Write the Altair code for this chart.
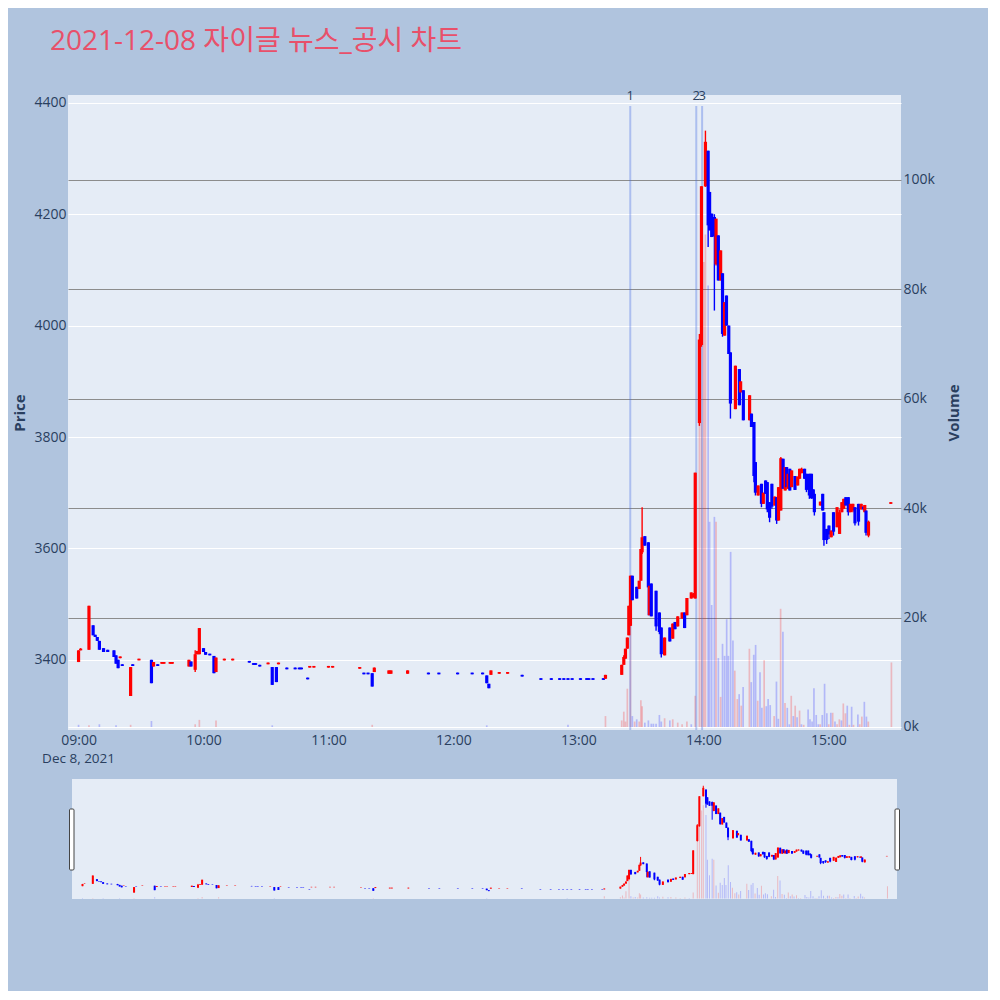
import altair as alt
import numpy as np
import pandas as pd

TITLE = "2021-12-08 자이글 뉴스_공시 차트"
DAY = "2021-12-08 09:00:00"

# candles: (minutes after 09:00, open, high, low, close)
MORNING = [
    (0, 3396, 3417, 3396, 3417), (1, 3417, 3421, 3417, 3420), (5, 3418, 3497, 3418, 3497),
    (7, 3462, 3462, 3444, 3444), (8, 3445, 3445, 3441, 3441), (9, 3441, 3441, 3434, 3434),
    (10, 3434, 3434, 3418, 3418), (12, 3421, 3421, 3414, 3414), (14, 3418, 3418, 3414, 3414),
    (17, 3417, 3417, 3405, 3405), (18, 3408, 3408, 3393, 3393), (19, 3400, 3400, 3385, 3385),
    (20, 3403, 3406, 3403, 3406), (21, 3392, 3392, 3389, 3389), (25, 3335, 3387, 3335, 3387),
    (26, 3392, 3392, 3389, 3389), (29, 3399, 3402, 3399, 3402), (35, 3400, 3400, 3358, 3358),
    (36, 3388, 3396, 3388, 3396), (38, 3392, 3392, 3389, 3389), (40, 3393, 3396, 3393, 3396),
    (41, 3393, 3396, 3393, 3396), (44, 3393, 3396, 3393, 3396), (45, 3393, 3396, 3393, 3396),
    (53, 3388, 3400, 3388, 3400), (54, 3397, 3397, 3388, 3388), (56, 3382, 3417, 3378, 3410),
    (57, 3410, 3416, 3410, 3416), (58, 3410, 3457, 3410, 3457), (60, 3421, 3421, 3414, 3414),
    (61, 3414, 3414, 3409, 3409), (63, 3411, 3411, 3408, 3408), (65, 3407, 3407, 3376, 3376),
    (66, 3378, 3404, 3378, 3404), (70, 3399, 3402, 3399, 3402), (74, 3399, 3402, 3399, 3402),
    (82, 3398, 3398, 3395, 3395), (84, 3394, 3394, 3391, 3391), (85, 3394, 3394, 3391, 3391),
    (87, 3391, 3391, 3388, 3388), (91, 3392, 3395, 3392, 3395), (93, 3387, 3387, 3355, 3355),
    (95, 3387, 3387, 3360, 3360), (96, 3392, 3395, 3392, 3395), (100, 3386, 3386, 3383, 3383),
    (104, 3386, 3386, 3383, 3383), (106, 3386, 3386, 3383, 3383), (107, 3386, 3386, 3383, 3383),
    (110, 3368, 3368, 3365, 3365), (111, 3386, 3389, 3386, 3389), (113, 3386, 3389, 3386, 3389),
    (120, 3386, 3389, 3386, 3389), (122, 3386, 3389, 3386, 3389),
]

MIDDAY = [
    (135, 3384, 3387, 3384, 3387), (137, 3377, 3377, 3374, 3374), (139, 3377, 3377, 3374, 3374),
    (141, 3376, 3376, 3352, 3352), (142, 3378, 3386, 3378, 3386), (149, 3375, 3381, 3375, 3381),
    (150, 3375, 3381, 3375, 3381), (158, 3375, 3381, 3375, 3381), (168, 3377, 3377, 3374, 3374),
    (173, 3377, 3377, 3374, 3374), (182, 3377, 3377, 3374, 3374), (189, 3377, 3377, 3374, 3374),
    (194, 3377, 3377, 3374, 3374), (196, 3372, 3372, 3358, 3358), (197, 3357, 3357, 3349, 3349),
    (198, 3373, 3381, 3373, 3381), (202, 3375, 3378, 3375, 3378), (206, 3375, 3378, 3375, 3378),
    (213, 3373, 3373, 3370, 3370), (222, 3367, 3367, 3364, 3364), (227, 3367, 3367, 3364, 3364),
    (231, 3367, 3367, 3364, 3364), (233, 3367, 3367, 3364, 3364), (235, 3367, 3367, 3364, 3364),
    (237, 3367, 3367, 3364, 3364), (241, 3367, 3367, 3364, 3364), (244, 3367, 3367, 3364, 3364),
    (245, 3367, 3367, 3364, 3364), (247, 3367, 3367, 3364, 3364), (252, 3367, 3367, 3364, 3364),
    (253, 3366, 3373, 3366, 3373),
]

RALLY = [
    (260.8, 3373, 3391, 3373, 3391), (261.8, 3391, 3408, 3391, 3405), (262.6, 3402, 3420, 3402, 3420),
    (263.5, 3420, 3440, 3420, 3440), (264.2, 3444, 3497, 3444, 3497), (265.0, 3461, 3551, 3461, 3551),
    (265.9, 3551, 3551, 3507, 3507), (268.0, 3531, 3531, 3510, 3510), (269.2, 3527, 3542, 3527, 3542),
    (270.0, 3542, 3599, 3542, 3599), (270.6, 3593, 3674, 3590, 3620), (271.9, 3622, 3622, 3605, 3605),
    (273.6, 3611, 3611, 3480, 3530), (274.1, 3480, 3533, 3480, 3533), (275.0, 3537, 3537, 3478, 3478),
    (277.3, 3524, 3524, 3452, 3460), (278.9, 3485, 3485, 3446, 3450), (279.8, 3458, 3458, 3404, 3410),
    (281.4, 3408, 3440, 3408, 3440), (283.9, 3458, 3458, 3433, 3433), (285.3, 3438, 3465, 3438, 3465),
    (286.4, 3468, 3468, 3455, 3455), (287.7, 3460, 3478, 3460, 3478), (289.8, 3474, 3485, 3474, 3485),
    (291.0, 3485, 3485, 3457, 3457), (292.1, 3480, 3511, 3480, 3511), (294.2, 3510, 3521, 3510, 3521),
    (295.3, 3512, 3520, 3512, 3518), (296.1, 3510, 3736, 3510, 3736),
]

AFTERNOON = [
    (298.1, 3825, 3985, 3820, 3975), (299.1, 3965, 4250, 3962, 4250), (301.0, 4250, 4350, 4249, 4330),
    (302.3, 4314, 4314, 4141, 4180), (303.0, 4240, 4240, 4171, 4171), (304.0, 4201, 4201, 4159, 4159),
    (305.3, 4195, 4200, 4027, 4160), (306.1, 4110, 4192, 4108, 4192), (307.2, 4162, 4162, 4081, 4081),
    (308.3, 4081, 4135, 4081, 4135), (309.2, 4094, 4094, 3980, 3985), (310.2, 3982, 4042, 3982, 4042),
    (311.1, 4054, 4054, 4000, 4000), (312.2, 4000, 4000, 3949, 3949), (313.0, 3952, 3952, 3833, 3860),
    (315.4, 3850, 3928, 3850, 3928), (317.3, 3922, 3922, 3857, 3857), (317.9, 3880, 3900, 3880, 3900),
    (319.2, 3884, 3884, 3830, 3830), (322.2, 3830, 3875, 3830, 3875), (323.1, 3842, 3842, 3818, 3818),
    (324.3, 3827, 3827, 3719, 3730), (325.0, 3755, 3755, 3695, 3700), (326.3, 3695, 3713, 3695, 3713),
    (327.9, 3716, 3716, 3674, 3680), (328.8, 3680, 3700, 3680, 3700), (329.9, 3722, 3722, 3698, 3698),
    (330.7, 3719, 3719, 3665, 3670), (331.8, 3683, 3683, 3647, 3655), (332.9, 3716, 3716, 3671, 3675),
    (334.3, 3677, 3693, 3677, 3693), (335.2, 3692, 3692, 3644, 3650), (336.1, 3650, 3710, 3650, 3710),
    (337.2, 3668, 3764, 3668, 3762), (338.3, 3761, 3761, 3707, 3707), (339.3, 3704, 3746, 3704, 3746),
    (340.0, 3746, 3746, 3710, 3710), (340.7, 3707, 3734, 3707, 3734), (341.5, 3743, 3743, 3704, 3704),
    (342.4, 3710, 3740, 3710, 3740), (344.0, 3730, 3730, 3705, 3705), (345.3, 3713, 3729, 3713, 3729),
    (346.2, 3725, 3743, 3725, 3743), (347.2, 3735, 3745, 3735, 3743), (348.6, 3743, 3743, 3725, 3725),
    (349.5, 3734, 3734, 3701, 3705), (350.9, 3734, 3734, 3689, 3695), (351.9, 3734, 3734, 3689, 3690),
    (352.8, 3706, 3706, 3689, 3690), (353.3, 3698, 3698, 3659, 3665), (356.2, 3677, 3684, 3677, 3684),
    (357.3, 3698, 3698, 3668, 3668), (357.9, 3665, 3665, 3605, 3615), (359.2, 3635, 3635, 3608, 3615),
    (360.3, 3641, 3641, 3617, 3625), (361.4, 3620, 3632, 3620, 3632), (362.5, 3665, 3665, 3623, 3630),
    (364.2, 3638, 3674, 3638, 3674), (365.4, 3626, 3670, 3626, 3665), (366.5, 3665, 3683, 3665, 3683),
    (367.4, 3671, 3689, 3671, 3689), (368.4, 3692, 3692, 3677, 3677), (369.6, 3692, 3692, 3659, 3665),
    (370.6, 3665, 3680, 3665, 3680), (371.8, 3668, 3680, 3665, 3680), (372.8, 3674, 3674, 3641, 3645),
    (374.5, 3680, 3680, 3641, 3648), (375.8, 3670, 3680, 3670, 3680), (376.9, 3675, 3675, 3668, 3670),
    (377.5, 3665, 3678, 3665, 3678), (378.1, 3668, 3668, 3623, 3628), (379.3, 3623, 3650, 3620, 3648),
    (390.0, 3680, 3683, 3680, 3683),
]

# volume: (minutes after 09:00, thousand shares, direction)
VOLUME = [
    (0, 0.4, "down"), (5, 0.3, "up"), (10, 0.5, "down"), (18, 0.3, "down"), (25, 0.4, "up"),
    (35, 1.1, "down"), (56, 0.5, "up"), (58, 1.3, "up"), (66, 1.2, "up"), (93, 0.3, "down"),
    (141, 0.4, "up"), (196, 0.3, "down"), (235, 0.4, "down"), (253, 2.0, "up"),
    (260.8, 1.2, "up"), (261.8, 2.8, "up"), (262.6, 1.0, "up"), (263.5, 7.0, "up"),
    (265.0, 26.0, "up"), (265.9, 2.0, "down"), (267.0, 1.0, "up"), (268.0, 1.4, "down"),
    (269.2, 1.0, "up"), (270.0, 4.9, "up"), (270.6, 3.8, "up"), (271.9, 0.8, "down"),
    (273.6, 1.2, "down"), (275.0, 0.6, "down"), (276.0, 0.6, "down"), (277.3, 0.6, "down"),
    (278.9, 2.2, "down"), (279.8, 1.0, "down"), (281.4, 1.6, "up"), (283.9, 1.2, "down"),
    (285.3, 1.4, "up"), (287.7, 0.8, "up"), (289.8, 0.5, "up"), (292.1, 1.0, "up"),
    (294.2, 0.5, "down"), (296.1, 5.7, "up"), (298.1, 58.0, "up"), (299.1, 98.0, "up"),
    (300.2, 85.0, "up"), (301.0, 90.0, "up"), (302.3, 80.7, "down"), (303.0, 37.5, "down"),
    (304.0, 22.3, "down"), (305.3, 38.4, "down"), (306.1, 37.5, "up"), (307.2, 12.6, "down"),
    (308.3, 5.5, "up"), (309.2, 15.2, "down"), (310.2, 13.0, "down"), (311.2, 19.7, "down"),
    (312.0, 13.0, "down"), (313.1, 32.0, "down"), (314.2, 15.8, "down"), (315.1, 10.3, "up"),
    (316.3, 5.1, "up"), (317.2, 6.0, "down"), (318.2, 3.9, "up"), (319.1, 7.3, "down"),
    (322.1, 14.3, "up"), (323.0, 8.2, "down"), (324.2, 13.2, "down"), (325.1, 15.0, "down"),
    (326.1, 4.8, "up"), (327.2, 10.0, "down"), (328.1, 3.5, "down"), (329.2, 12.2, "up"),
    (330.2, 3.8, "down"), (331.1, 5.1, "down"), (332.1, 4.0, "down"), (334.0, 2.0, "up"),
    (335.1, 8.3, "down"), (336.0, 1.5, "down"), (337.1, 21.6, "up"), (338.2, 17.4, "down"),
    (339.2, 4.4, "up"), (340.3, 3.5, "down"), (341.3, 0.5, "down"), (342.2, 5.7, "up"),
    (343.2, 2.0, "down"), (344.1, 3.9, "up"), (345.0, 1.8, "down"), (346.2, 3.0, "up"),
    (347.1, 0.5, "down"), (348.2, 0.4, "up"), (350.3, 3.2, "down"), (351.2, 1.4, "down"),
    (352.2, 1.0, "down"), (353.1, 7.1, "down"), (354.2, 2.2, "down"), (355.2, 0.5, "down"),
    (356.1, 0.5, "up"), (357.1, 2.2, "down"), (358.2, 7.9, "down"), (359.3, 2.5, "down"),
    (360.2, 0.5, "up"), (361.2, 2.6, "down"), (362.1, 2.6, "up"), (363.2, 1.0, "down"),
    (364.2, 0.5, "up"), (365.3, 1.4, "up"), (366.3, 1.2, "down"), (367.2, 4.3, "up"),
    (368.2, 2.5, "up"), (369.1, 3.9, "down"), (370.1, 0.4, "up"), (371.2, 3.7, "down"),
    (372.1, 0.4, "up"), (374.2, 2.3, "down"), (375.1, 0.5, "up"), (376.1, 1.9, "up"),
    (377.3, 4.6, "down"), (378.3, 1.9, "down"), (379.2, 1.0, "up"), (390.3, 11.8, "up"),
]

NEWS_MIN = [264.9, 296.6, 299.4]
NEWS_LABEL = ["1", "2", "3"]

HOUR_TICKS = [9, 10, 11, 12, 13, 14, 15]
PRICE_TICKS = [3400, 3600, 3800, 4000, 4200, 4400]
VOL_TICKS = [0, 20000, 40000, 60000, 80000, 100000]

FONT = "Open Sans"
INK = "#2a3f5f"
PLOT_BG = "#e5ecf6"
PAGE_BG = "#b0c4de"
W, H = 833, 635
SW, SH = 833, 120


def stamp(minutes):
    secs = np.round(np.asarray(minutes, dtype=float) * 60).astype(int)
    idx = pd.Timestamp(DAY) + pd.to_timedelta(secs, unit="s")
    return list(idx.strftime("%Y-%m-%dT%H:%M:%S"))


candles = pd.DataFrame(MORNING + MIDDAY + RALLY + AFTERNOON,
                       columns=["minute", "open", "high", "low", "close"])
candles["time"] = stamp(candles["minute"])
candles["dir"] = np.where(candles["close"] >= candles["open"], "up", "down")

vol = pd.DataFrame(VOLUME, columns=["minute", "k", "dir"])
vol["time"] = stamp(vol["minute"])
vol["volume"] = vol["k"] * 1000

news = pd.DataFrame({"time": stamp(NEWS_MIN), "label": NEWS_LABEL})
date_lbl = pd.DataFrame({"time": stamp([0]), "label": ["Dec 8, 2021"]})
one = pd.DataFrame({"label": [TITLE]})


def dt(h, m=0, s=0):
    return alt.DateTime(year=2021, month=12, date=8, hours=h, minutes=m, seconds=s)


t_dom = [dt(8, 57, 20), dt(15, 32, 30)]
price_dom = [3274, 4414]
vol_dom = [-550, 115500]

color = alt.Color("dir:N", scale=alt.Scale(domain=["up", "down"], range=["#ff0000", "#0000ff"]),
                  legend=None)

x_axis = alt.Axis(values=[dt(h) for h in HOUR_TICKS], format="%H:%M", title=None, grid=False,
                  ticks=False, domain=False, labelFontSize=14, labelColor=INK, labelPadding=3,
                  labelFlush=False)
x_main = alt.X("time:T", scale=alt.Scale(domain=t_dom), axis=x_axis)

price_axis = alt.Axis(orient="left", values=PRICE_TICKS, format="d", title="Price", grid=True,
                      gridColor="white", gridWidth=1, ticks=False, domain=False, labelFontSize=14,
                      labelColor=INK, labelPadding=2, titleFontSize=15, titleFontWeight="bold",
                      titleColor=INK, titleAngle=270, titleX=-49, titleY=H / 2,
                      titleAlign="center", titleBaseline="middle")
vol_axis = alt.Axis(orient="right", values=VOL_TICKS, format="~s", title="Volume", grid=True,
                    gridColor={"condition": {"test": "datum.value === 0", "value": "#ffffff"},
                               "value": "#8c8c8c"},
                    gridWidth=1.2, ticks=False, domain=False, labelFontSize=14, labelColor=INK,
                    labelPadding=2, titleFontSize=15, titleFontWeight="bold", titleColor=INK,
                    titleAngle=270, titleX=52, titleY=H / 2, titleAlign="center",
                    titleBaseline="middle")

vol_bars = alt.Chart(vol).mark_bar(size=1.7, opacity=0.22).encode(
    x=x_main, y=alt.Y("volume:Q", scale=alt.Scale(domain=vol_dom), axis=vol_axis), color=color)

news_lines = alt.Chart(news).mark_rule(color="#4169e1", opacity=0.35, strokeWidth=2).encode(
    x=x_main, y=alt.value(11), y2=alt.value(H))

wicks = alt.Chart(candles).mark_rule(strokeWidth=1.4).encode(
    x=x_main, y=alt.Y("low:Q", scale=alt.Scale(domain=price_dom), axis=None), y2="high:Q",
    color=color)

bodies = alt.Chart(candles).mark_rule(strokeWidth=3.2).encode(
    x=x_main, y=alt.Y("open:Q", scale=alt.Scale(domain=price_dom), axis=price_axis), y2="close:Q",
    color=color)

news_text = alt.Chart(news).mark_text(fontSize=13, color=INK, baseline="middle").encode(
    x=x_main, y=alt.value(1), text="label:N")

date_text = alt.Chart(date_lbl).mark_text(fontSize=13.5, color=INK, baseline="middle").encode(
    x=x_main, y=alt.value(H + 29), text="label:N")

title_text = alt.Chart(one).mark_text(
    align="left", baseline="alphabetic", fontSize=28, color="#e8506a",
    font="Open Sans, Noto Sans CJK KR").encode(x=alt.value(-18), y=alt.value(-45), text="label:N")

main = alt.layer(vol_bars, news_lines, wicks, bodies, news_text, date_text, title_text).resolve_scale(
    y="independent").properties(width=W, height=H)

# range slider
x_mini = alt.X("time:T", scale=alt.Scale(domain=t_dom, range=[4, 829]), axis=None)
slider_bg = alt.Chart(one).mark_rect(color=PLOT_BG).encode(
    x=alt.value(4), x2=alt.value(829), y=alt.value(0), y2=alt.value(SH))
mini_vol = alt.Chart(vol).mark_bar(size=1, opacity=0.22).encode(
    x=x_mini, y=alt.Y("volume:Q", scale=alt.Scale(domain=vol_dom), axis=None), color=color)
mini_wick = alt.Chart(candles).mark_rule(strokeWidth=1).encode(
    x=x_mini, y=alt.Y("low:Q", scale=alt.Scale(domain=price_dom), axis=None), y2="high:Q",
    color=color)
mini_body = alt.Chart(candles).mark_rule(strokeWidth=2).encode(
    x=x_mini, y=alt.Y("open:Q", scale=alt.Scale(domain=price_dom), axis=None), y2="close:Q",
    color=color)
handle_l = alt.Chart(one).mark_rect(fill="white", stroke="#444444", strokeWidth=1, cornerRadius=1).encode(
    x=alt.value(1.5), x2=alt.value(6), y=alt.value(30), y2=alt.value(91))
handle_r = alt.Chart(one).mark_rect(fill="white", stroke="#444444", strokeWidth=1, cornerRadius=1).encode(
    x=alt.value(827), x2=alt.value(831.5), y=alt.value(30), y2=alt.value(91))

slider = alt.layer(slider_bg, mini_vol, mini_wick, mini_body, handle_l, handle_r).resolve_scale(
    y="independent").properties(width=SW, height=SH,
                                view=alt.ViewBackground(fill="transparent", strokeWidth=0))

chart = alt.vconcat(main, slider, spacing=49, bounds="flush").resolve_scale(
    x="independent", y="independent"
).properties(
    background=PAGE_BG, padding={"left": 4, "top": 20, "right": 27, "bottom": 92}
).configure_view(fill=PLOT_BG, strokeWidth=0).configure_axis(labelFont=FONT, titleFont=FONT
).configure_text(font=FONT)

chart.save("out.html", embed_options={"renderer": "svg", "actions": False})
